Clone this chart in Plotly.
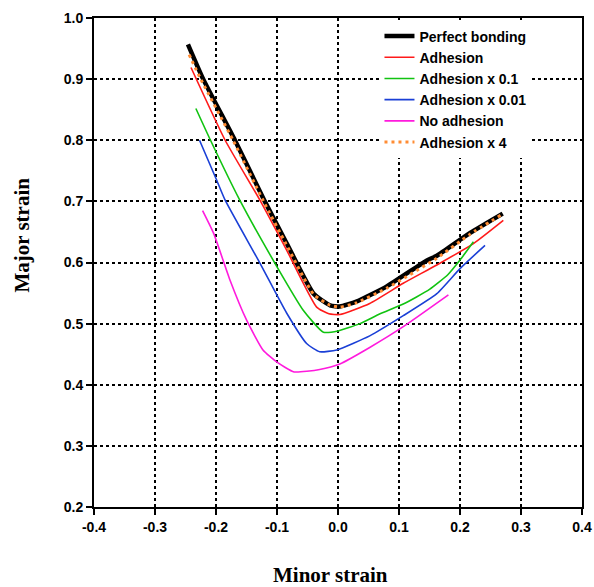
import plotly.graph_objects as go

# Data (minor strain, major strain)
perfect_x = [-0.246, -0.221, -0.169, -0.120, -0.084, -0.040, -0.013, 0.003, 0.030, 0.080, 0.145, 0.162, 0.216, 0.270]
perfect_y = [0.957, 0.900, 0.800, 0.700, 0.631, 0.549, 0.530, 0.528, 0.536, 0.561, 0.603, 0.611, 0.648, 0.680]

adh_x = [-0.241, -0.185, -0.128, -0.084, -0.035, -0.015, 0.003, 0.052, 0.107, 0.162, 0.222, 0.271]
adh_y = [0.919, 0.800, 0.702, 0.620, 0.527, 0.516, 0.515, 0.533, 0.566, 0.596, 0.631, 0.669]

adh01_x = [-0.233, -0.209, -0.161, -0.100, -0.057, -0.024, 0.000, 0.036, 0.069, 0.107, 0.150, 0.180, 0.200, 0.222]
adh01_y = [0.852, 0.800, 0.702, 0.593, 0.522, 0.486, 0.488, 0.500, 0.516, 0.532, 0.556, 0.580, 0.604, 0.634]

adh001_x = [-0.227, -0.199, -0.185, -0.128, -0.084, -0.051, -0.030, -0.002, 0.052, 0.107, 0.162, 0.200, 0.241]
adh001_y = [0.800, 0.735, 0.702, 0.599, 0.517, 0.467, 0.454, 0.457, 0.480, 0.513, 0.549, 0.590, 0.628]

noadh_x = [-0.222, -0.204, -0.177, -0.150, -0.123, -0.100, -0.072, -0.030, 0.003, 0.052, 0.107, 0.181]
noadh_y = [0.685, 0.648, 0.571, 0.506, 0.457, 0.437, 0.421, 0.425, 0.434, 0.461, 0.495, 0.547]

adh4_x = [-0.244, -0.225, -0.172, -0.122, -0.085, -0.040, -0.013, 0.003, 0.030, 0.080, 0.162, 0.216, 0.268]
adh4_y = [0.940, 0.900, 0.800, 0.700, 0.630, 0.548, 0.530, 0.527, 0.534, 0.558, 0.607, 0.646, 0.678]

x_ticks = [-0.4, -0.3, -0.2, -0.1, 0.0, 0.1, 0.2, 0.3, 0.4]
y_ticks = [0.2, 0.3, 0.4, 0.5, 0.6, 0.7, 0.8, 0.9, 1.0]

series = [
    ("Perfect bonding", perfect_x, perfect_y, "#000000", 4.5, "solid"),
    ("Adhesion", adh_x, adh_y, "#FF1A1A", 1.6, "solid"),
    ("Adhesion x 0.1", adh01_x, adh01_y, "#11C311", 1.6, "solid"),
    ("Adhesion x 0.01", adh001_x, adh001_y, "#1A3FD6", 1.6, "solid"),
    ("No adhesion", noadh_x, noadh_y, "#FF1ADD", 1.6, "solid"),
    ("Adhesion x 4", adh4_x, adh4_y, "#FF8C33", 3, "3px,4px"),
]

fig = go.Figure()
for name, xs, ys, color, w, dash in series:
    fig.add_trace(go.Scatter(
        x=xs, y=ys, mode="lines", name=name,
        line=dict(color=color, width=w, dash=dash, shape="spline", smoothing=0.5),
    ))

tickfont = dict(family="Liberation Sans, Arial", size=14, color="black", weight="bold")

fig.update_layout(
    width=594, height=587,
    margin=dict(l=94, r=12, t=18, b=80),
    paper_bgcolor="white", plot_bgcolor="white",
    showlegend=True,
    legend=dict(
        x=0.585, y=0.995, xanchor="left", yanchor="top",
        bgcolor="white", borderwidth=0,
        font=dict(family="Liberation Sans, Arial", size=14, color="black", weight="bold"),
        tracegroupgap=0, itemwidth=30,
    ),
    xaxis=dict(
        range=[-0.4, 0.4], tickvals=x_ticks, ticktext=[f"{v:.1f}" for v in x_ticks],
        showline=True, linecolor="black", linewidth=2, mirror=True,
        ticks="outside", ticklen=6, tickwidth=2, tickcolor="black",
        showgrid=True, gridcolor="black", gridwidth=1.5, griddash="dot",
        zeroline=False, tickfont=tickfont, automargin=False,
    ),
    yaxis=dict(
        range=[0.2, 1.0], tickvals=y_ticks, ticktext=[f"{v:.1f}" for v in y_ticks],
        showline=True, linecolor="black", linewidth=2, mirror=True,
        ticks="outside", ticklen=6, tickwidth=2, tickcolor="black",
        showgrid=True, gridcolor="black", gridwidth=1.5, griddash="dot",
        zeroline=False, tickfont=tickfont, automargin=False,
    ),
    annotations=[
        dict(text="Minor strain", xref="paper", yref="paper", x=0.485, y=0, yshift=-68,
             xanchor="center", yanchor="middle", showarrow=False,
             font=dict(family="Liberation Serif, Times New Roman", size=21, color="black", weight="bold")),
        dict(text="Major strain", xref="paper", yref="paper", x=0, y=0.555, xshift=-72,
             xanchor="center", yanchor="middle", showarrow=False, textangle=-90,
             font=dict(family="Liberation Serif, Times New Roman", size=21, color="black", weight="bold")),
    ],
)

fig.write_html("out.html")
